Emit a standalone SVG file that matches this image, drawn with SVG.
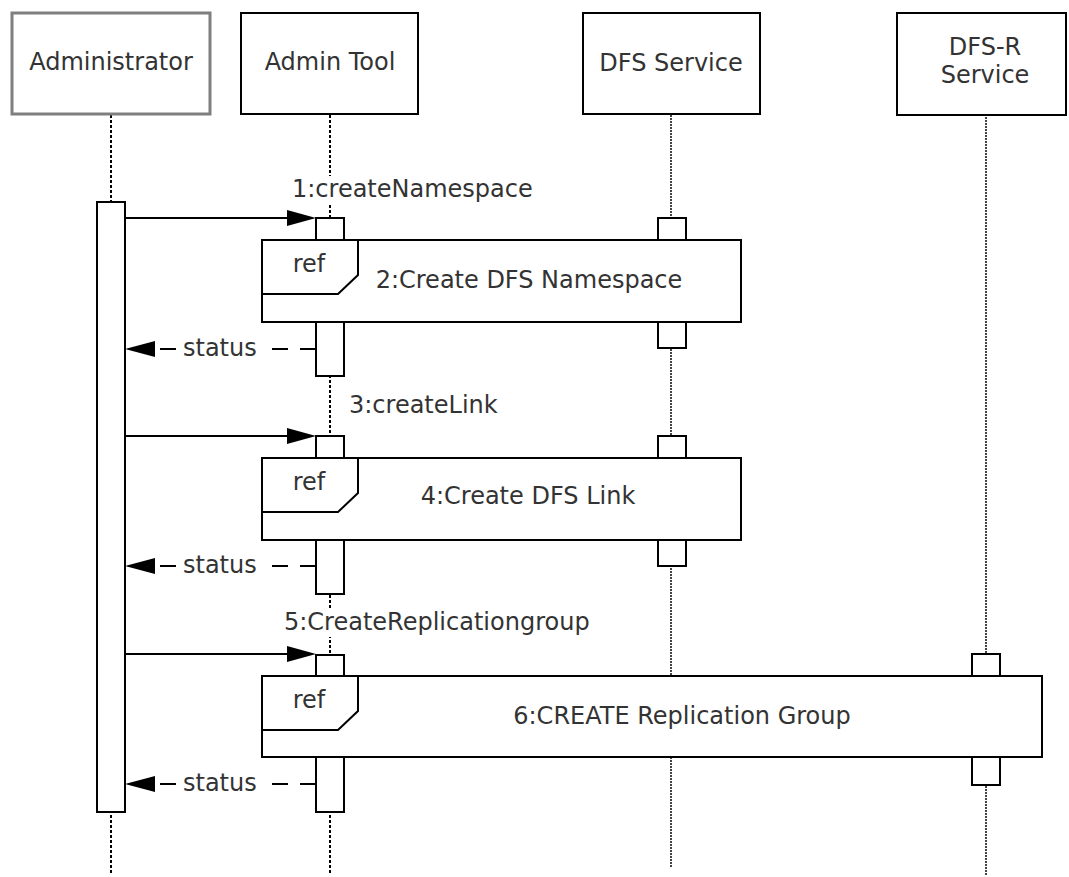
<svg xmlns="http://www.w3.org/2000/svg" width="1069" height="877" viewBox="0 0 1069 877">
<style>
text{font-family:"DejaVu Sans","Liberation Sans",sans-serif;font-size:24px;fill:#333}
.mid{text-anchor:middle}
.box{fill:#fff;stroke:#000;stroke-width:2}
.actor{fill:#fff;stroke:#7f7f7f;stroke-width:3}
.ll{fill:none;stroke:#000;stroke-width:2;stroke-dasharray:3 2}
.llg{fill:none;stroke:#444;stroke-width:2;stroke-dasharray:2 1}
.act{fill:#fff;stroke:#000;stroke-width:2}
.ref{fill:#fff;stroke:#000;stroke-width:2}
.tab{fill:none;stroke:#000;stroke-width:2}
.msg{fill:none;stroke:#000;stroke-width:2}
.ret{fill:none;stroke:#000;stroke-width:2;stroke-dasharray:16 12}
.bg{fill:#fff}
</style>
<g id="lifelines">
<line class="ll" x1="111" y1="115" x2="111" y2="875"/>
<line class="ll" x1="330" y1="115" x2="330" y2="875"/>
<line class="llg" x1="671" y1="115" x2="671" y2="867"/>
<line class="llg" x1="986" y1="117" x2="986" y2="875"/>
</g>
<g id="administrator">
<rect class="actor" x="12" y="13" width="198" height="101"/>
<text class="mid" x="111" y="70">Administrator</text>
</g>
<g id="admin-tool">
<rect class="box" x="241" y="13" width="177" height="101"/>
<text class="mid" x="330" y="70">Admin Tool</text>
</g>
<g id="dfs-service">
<rect class="box" x="583" y="13" width="177" height="101"/>
<text class="mid" x="671" y="71">DFS Service</text>
</g>
<g id="dfsr-service">
<rect class="box" x="897" y="13" width="169" height="102"/>
<text class="mid" x="985" y="55">DFS-R</text>
<text class="mid" x="985" y="83">Service</text>
</g>
<g id="activations">
<rect class="act" x="97" y="202" width="28" height="610"/>
<rect class="act" x="316" y="218" width="28" height="158"/>
<rect class="act" x="316" y="436" width="28" height="158"/>
<rect class="act" x="316" y="655" width="28" height="157"/>
<rect class="act" x="658" y="218" width="28" height="130"/>
<rect class="act" x="658" y="436" width="28" height="130"/>
<rect class="act" x="972" y="654" width="28" height="131"/>
</g>
<g id="ref1">
<rect class="ref" x="262" y="240" width="479" height="82"/>
<path class="tab" d="M262,294 H338 L358,275 V240"/>
<text class="mid" x="309" y="272">ref</text>
<text class="mid" x="529" y="288">2:Create DFS Namespace</text>
</g>
<g id="ref2">
<rect class="ref" x="262" y="458" width="479" height="82"/>
<path class="tab" d="M262,512 H338 L358,493 V458"/>
<text class="mid" x="309" y="490">ref</text>
<text class="mid" x="528" y="504">4:Create DFS Link</text>
</g>
<g id="ref3">
<rect class="ref" x="262" y="676" width="780" height="81"/>
<path class="tab" d="M262,730 H338 L358,711 V676"/>
<text class="mid" x="309" y="708">ref</text>
<text class="mid" x="682" y="724">6:CREATE Replication Group</text>
</g>
<g id="connectors">
<line class="msg" x1="125" y1="218" x2="290" y2="218"/>
<polygon points="316,218 287,210 287,226" fill="#000"/>
<rect class="bg" x="288" y="176" width="246" height="28"/>
<text x="292" y="197">1:createNamespace</text>

<line class="ret" x1="316" y1="349" x2="155" y2="349"/>
<polygon points="125,349 155,341 155,357" fill="#000"/>
<rect class="bg" x="179" y="334" width="84" height="28"/>
<text x="183" y="356">status</text>

<line class="msg" x1="125" y1="436" x2="290" y2="436"/>
<polygon points="316,436 287,428 287,444" fill="#000"/>
<rect class="bg" x="345" y="392" width="160" height="28"/>
<text x="349" y="413">3:createLink</text>

<line class="ret" x1="316" y1="566" x2="155" y2="566"/>
<polygon points="125,566 155,558 155,574" fill="#000"/>
<rect class="bg" x="179" y="551" width="84" height="28"/>
<text x="183" y="573">status</text>

<line class="msg" x1="125" y1="654" x2="290" y2="654"/>
<polygon points="316,654 287,646 287,662" fill="#000"/>
<rect class="bg" x="280" y="609" width="318" height="28"/>
<text x="284" y="630">5:CreateReplicationgroup</text>

<line class="ret" x1="316" y1="784" x2="155" y2="784"/>
<polygon points="125,784 155,776 155,792" fill="#000"/>
<rect class="bg" x="179" y="769" width="84" height="28"/>
<text x="183" y="791">status</text>
</g>
</svg>
